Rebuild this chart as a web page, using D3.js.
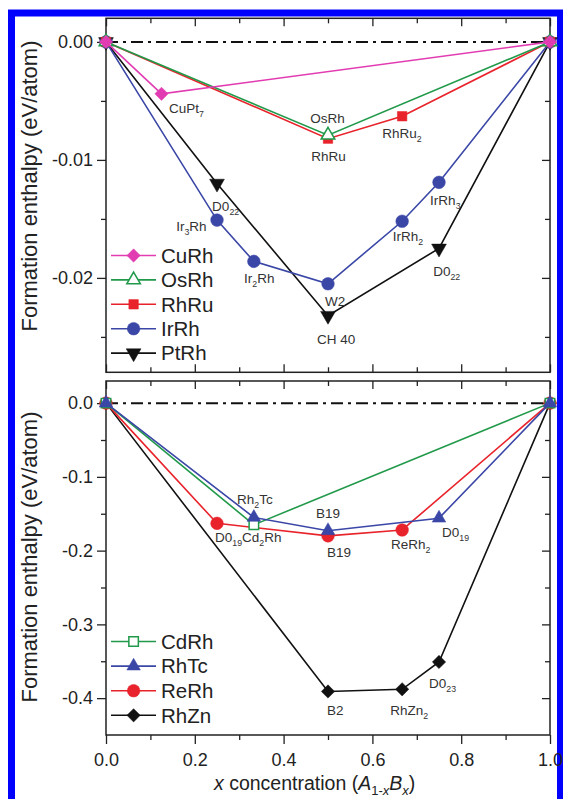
<!DOCTYPE html>
<html><head><meta charset="utf-8">
<script src="https://cdn.jsdelivr.net/npm/d3@7"></script>
<style>
html,body{margin:0;padding:0;background:#fff;}
svg{display:block;font-family:"Liberation Sans",Arial,sans-serif;}
</style></head>
<body>
<svg id="c" width="563" height="799"></svg>
<script>
// ---------------- DATA ----------------
// Top panel (eV/atom)
const CuRh_x = [0, 0.125, 1];
const CuRh_y = [0, -0.0044, 0];
const OsRh_x = [0, 0.5, 1];
const OsRh_y = [0, -0.0079, 0];
const RhRu_x = [0, 0.5, 0.667, 1];
const RhRu_y = [0, -0.0082, -0.0063, 0];
const IrRh_x = [0, 0.25, 0.333, 0.5, 0.667, 0.75, 1];
const IrRh_y = [0, -0.0151, -0.0186, -0.0205, -0.0152, -0.0119, 0];
const PtRh_x = [0, 0.25, 0.5, 0.75, 1];
const PtRh_y = [0, -0.0120, -0.0232, -0.0175, 0];
// Bottom panel (eV/atom)
const CdRh_x = [0, 0.333, 1];
const CdRh_y = [0, -0.165, 0];
const RhTc_x = [0, 0.333, 0.5, 0.75, 1];
const RhTc_y = [0, -0.155, -0.173, -0.156, 0];
const ReRh_x = [0, 0.25, 0.5, 0.667, 1];
const ReRh_y = [0, -0.163, -0.180, -0.172, 0];
const RhZn_x = [0, 0.5, 0.667, 0.75, 1];
const RhZn_y = [0, -0.391, -0.388, -0.351, 0];

// Ticks
const xMajor = [0, 0.2, 0.4, 0.6, 0.8, 1.0];
const xMinor = [0.1, 0.3, 0.5, 0.7, 0.9];
const xTickLabels = ["0.0", "0.2", "0.4", "0.6", "0.8", "1.0"];
const topYMajor = [0, -0.01, -0.02];
const topYMinor = [-0.005, -0.015, -0.025];
const topYTickLabels = ["0.00", "-0.01", "-0.02"];
const botYMajor = [0, -0.1, -0.2, -0.3, -0.4];
const botYMinor = [-0.05, -0.15, -0.25, -0.35];
const botYTickLabels = ["0.0", "-0.1", "-0.2", "-0.3", "-0.4"];

// Annotations: [parts, x, y] in data units (parts: [text, style])
const topLabels = [
  [[["CuPt",""],["7","sub"]], 0.142, -0.00604, "start"],
  [[["OsRh",""]], 0.499, -0.00689, "middle"],
  [[["RhRu",""]], 0.501, -0.01011, "middle"],
  [[["RhRu",""],["2","sub"]], 0.622, -0.00816, "start"],
  [[["D0",""],["22","sub"]], 0.239, -0.01435, "start"],
  [[["Ir",""],["3","sub"],["Rh",""]], 0.158, -0.01604, "start"],
  [[["Ir",""],["2","sub"],["Rh",""]], 0.311, -0.02045, "start"],
  [[["W2",""]], 0.493, -0.0224, "start"],
  [[["CH 40",""]], 0.475, -0.02562, "start"],
  [[["IrRh",""],["2","sub"]], 0.646, -0.01689, "start"],
  [[["IrRh",""],["3","sub"]], 0.730, -0.01384, "start"],
  [[["D0",""],["22","sub"]], 0.737, -0.01986, "start"]
];
const botLabels = [
  [[["Rh",""],["2","sub"],["Tc",""]], 0.295, -0.1368, "start"],
  [[["D0",""],["19","sub"],["Cd",""],["2","sub"],["Rh",""]], 0.2455, -0.1877, "start"],
  [[["B19",""]], 0.473, -0.1558, "start"],
  [[["B19",""]], 0.498, -0.208, "start"],
  [[["ReRh",""],["2","sub"]], 0.642, -0.1978, "start"],
  [[["D0",""],["19","sub"]], 0.757, -0.1809, "start"],
  [[["B2",""]], 0.498, -0.4229, "start"],
  [[["RhZn",""],["2","sub"]], 0.640, -0.4229, "start"],
  [[["D0",""],["23","sub"]], 0.7275, -0.3863, "start"]
];

// ---------------- LAYOUT ----------------
const svg = d3.select("#c");
const X0 = 106, X1 = 550;
const x = d3.scaleLinear().domain([0, 1]).range([X0, X1]);
const yTop = d3.scaleLinear().domain([-0.028, 0.002]).range([372.3, 18.3]);
const yBot = d3.scaleLinear().domain([-0.45, 0.03]).range([735, 381]);

const C = {mag:"#e23cb2", grn:"#21994a", red:"#e8232b", blu:"#3a47a6", blk:"#111111"};

// blue frame
svg.append("rect").attr("x", 11.5).attr("y", 13).attr("width", 549).attr("height", 820)
  .attr("fill", "none").attr("stroke", "#0000ff").attr("stroke-width", 7);

function drawAxes(y, yMaj, yMin, yLabs, bottomLabels) {
  const g = svg.append("g").attr("class", "axes");
  const [yb, yt] = y.range();
  const style = s => { s.select(".domain").remove(); s.selectAll("line").attr("stroke", "#222").attr("stroke-width", 1.3);
    s.selectAll("text").attr("fill", "#222").style("font-size", "18px").style("font-family", '"Liberation Sans",Arial,sans-serif'); };
  g.append("g").attr("transform", `translate(${X0},0)`)
    .call(d3.axisLeft(y).tickValues(yMaj).tickSize(9).tickPadding(4).tickFormat((d, i) => yLabs[i])).call(style);
  g.append("g").attr("transform", `translate(${X0},0)`)
    .call(d3.axisLeft(y).tickValues(yMin).tickSize(5).tickFormat("")).call(style);
  g.append("g").attr("transform", `translate(${X1},0)`)
    .call(d3.axisRight(y).tickValues(yMaj).tickSize(-8).tickFormat("")).call(style);
  g.append("g").attr("transform", `translate(${X1},0)`)
    .call(d3.axisRight(y).tickValues(yMin).tickSize(-5).tickFormat("")).call(style);
  g.append("g").attr("transform", `translate(0,${yt})`)
    .call(d3.axisTop(x).tickValues(xMajor).tickSize(-8).tickFormat("")).call(style);
  g.append("g").attr("transform", `translate(0,${yt})`)
    .call(d3.axisTop(x).tickValues(xMinor).tickSize(-5).tickFormat("")).call(style);
  if (bottomLabels) {
    g.append("g").attr("transform", `translate(0,${yb})`)
      .call(d3.axisBottom(x).tickValues(xMajor).tickSize(9).tickPadding(9).tickFormat((d, i) => xTickLabels[i])).call(style);
    g.append("g").attr("transform", `translate(0,${yb})`)
      .call(d3.axisBottom(x).tickValues(xMinor).tickSize(5).tickFormat("")).call(style);
  } else {
    g.append("g").attr("transform", `translate(0,${yb})`)
      .call(d3.axisBottom(x).tickValues(xMajor).tickSize(-8).tickFormat("")).call(style);
    g.append("g").attr("transform", `translate(0,${yb})`)
      .call(d3.axisBottom(x).tickValues(xMinor).tickSize(-5).tickFormat("")).call(style);
  }
  g.append("rect").attr("x", X0).attr("y", yt).attr("width", X1 - X0).attr("height", yb - yt)
    .attr("fill", "none").attr("stroke", "#222").attr("stroke-width", 1.5);
  // zero reference line
  g.append("line").attr("x1", x(0)).attr("x2", x(1)).attr("y1", y(0)).attr("y2", y(0))
    .attr("stroke", "#111").attr("stroke-width", 2).attr("stroke-dasharray", "12,5,3,5");
}

const sym = {
  diamond: {type: d3.symbolSquare, size: 88, rot: 45},
  triUp: {type: d3.symbolTriangle, size: 80, rot: 0},
  triDown: {type: d3.symbolTriangle, size: 95, rot: 180},
  square: {type: d3.symbolSquare, size: 90, rot: 0},
  circle: {type: d3.symbolCircle, size: 125, rot: 0}
};

function drawSeries(y, xs, ys, color, s, open) {
  const pts = xs.map((v, i) => [v, ys[i]]);
  const g = svg.append("g");
  g.append("path").datum(pts)
    .attr("d", d3.line().x(d => x(d[0])).y(d => y(d[1])))
    .attr("fill", "none").attr("stroke", color).attr("stroke-width", 1.6);
  g.selectAll("path.m").data(pts).join("path").attr("class", "m")
    .attr("d", d3.symbol().type(s.type).size(s.size))
    .attr("transform", d => `translate(${x(d[0])},${y(d[1])}) rotate(${s.rot})`)
    .attr("fill", open ? "#fff" : color).attr("stroke", color).attr("stroke-width", open ? 1.5 : 0.5);
}

function drawText(parent, parts, px, py, anchor, size) {
  const t = parent.append("text").attr("x", px).attr("y", py).attr("text-anchor", anchor)
    .style("font-size", size + "px").attr("fill", "#333");
  let inSub = false;
  parts.forEach(([txt, st]) => {
    const ts = t.append("tspan").text(txt);
    if (st === "sub") { ts.style("font-size", (size * 0.65) + "px"); if (!inSub) ts.attr("dy", size * 0.3); inSub = true; }
    else { if (inSub) ts.attr("dy", -size * 0.3); inSub = false; }
  });
  return t;
}

function drawLegend(items, y0, step) {
  const g = svg.append("g");
  items.forEach((it, i) => {
    const yy = y0 + i * step;
    g.append("line").attr("x1", 111).attr("x2", 156).attr("y1", yy).attr("y2", yy)
      .attr("stroke", it.color).attr("stroke-width", 1.6);
    g.append("path").attr("d", d3.symbol().type(it.s.type).size(it.s.size)())
      .attr("transform", `translate(133.6,${yy}) rotate(${it.s.rot})`)
      .attr("fill", it.open ? "#fff" : it.color).attr("stroke", it.color).attr("stroke-width", it.open ? 1.5 : 0.5);
    g.append("text").attr("x", 161).attr("y", yy + 7.3).text(it.name)
      .style("font-size", "20.5px").attr("fill", "#222");
  });
}

// ---------------- TOP PANEL ----------------
drawAxes(yTop, topYMajor, topYMinor, topYTickLabels, false);
drawSeries(yTop, PtRh_x, PtRh_y, C.blk, sym.triDown, false);
drawSeries(yTop, IrRh_x, IrRh_y, C.blu, sym.circle, false);
drawSeries(yTop, RhRu_x, RhRu_y, C.red, sym.square, false);
drawSeries(yTop, OsRh_x, OsRh_y, C.grn, sym.triUp, true);
drawSeries(yTop, CuRh_x, CuRh_y, C.mag, sym.diamond, false);
const lt = svg.append("g");
topLabels.forEach(([p, lx, ly, a]) => drawText(lt, p, x(lx), yTop(ly), a, 13.5));
drawLegend([
  {name:"CuRh", color:C.mag, s:sym.diamond},
  {name:"OsRh", color:C.grn, s:sym.triUp, open:true},
  {name:"RhRu", color:C.red, s:sym.square},
  {name:"IrRh", color:C.blu, s:sym.circle},
  {name:"PtRh", color:C.blk, s:sym.triDown}
], 255.5, 24.4);

// ---------------- BOTTOM PANEL ----------------
drawAxes(yBot, botYMajor, botYMinor, botYTickLabels, true);
drawSeries(yBot, RhZn_x, RhZn_y, C.blk, sym.diamond, false);
drawSeries(yBot, ReRh_x, ReRh_y, C.red, sym.circle, false);
drawSeries(yBot, CdRh_x, CdRh_y, C.grn, sym.square, true);
drawSeries(yBot, RhTc_x, RhTc_y, C.blu, sym.triUp, false);
const lb = svg.append("g");
botLabels.forEach(([p, lx, ly, a]) => drawText(lb, p, x(lx), yBot(ly), a, 13.5));
drawLegend([
  {name:"CdRh", color:C.grn, s:sym.square, open:true},
  {name:"RhTc", color:C.blu, s:sym.triUp},
  {name:"ReRh", color:C.red, s:sym.circle},
  {name:"RhZn", color:C.blk, s:sym.diamond}
], 641.5, 24.6);

// ---------------- AXIS TITLES ----------------
const ytitle = "Formation enthalpy (eV/atom)";
[[186, 37], [557, 37]].forEach(([cy, cx]) => {
  svg.append("text").attr("transform", `translate(${cx},${cy}) rotate(-90)`)
    .attr("text-anchor", "middle").style("font-size", "22px").attr("fill", "#222").text(ytitle);
});
const xt = svg.append("text").attr("x", 214).attr("y", 790).style("font-size", "19.5px").attr("fill", "#222");
xt.append("tspan").style("font-style", "italic").text("x");
xt.append("tspan").text(" concentration (");
xt.append("tspan").style("font-style", "italic").text("A");
xt.append("tspan").attr("dy", 5).style("font-size", "13px").text("1-");
xt.append("tspan").style("font-size", "13px").style("font-style", "italic").text("x");
xt.append("tspan").attr("dy", -5).style("font-style", "italic").text("B");
xt.append("tspan").attr("dy", 5).style("font-size", "13px").style("font-style", "italic").text("x");
xt.append("tspan").attr("dy", -5).text(")");
</script>
</body></html>
